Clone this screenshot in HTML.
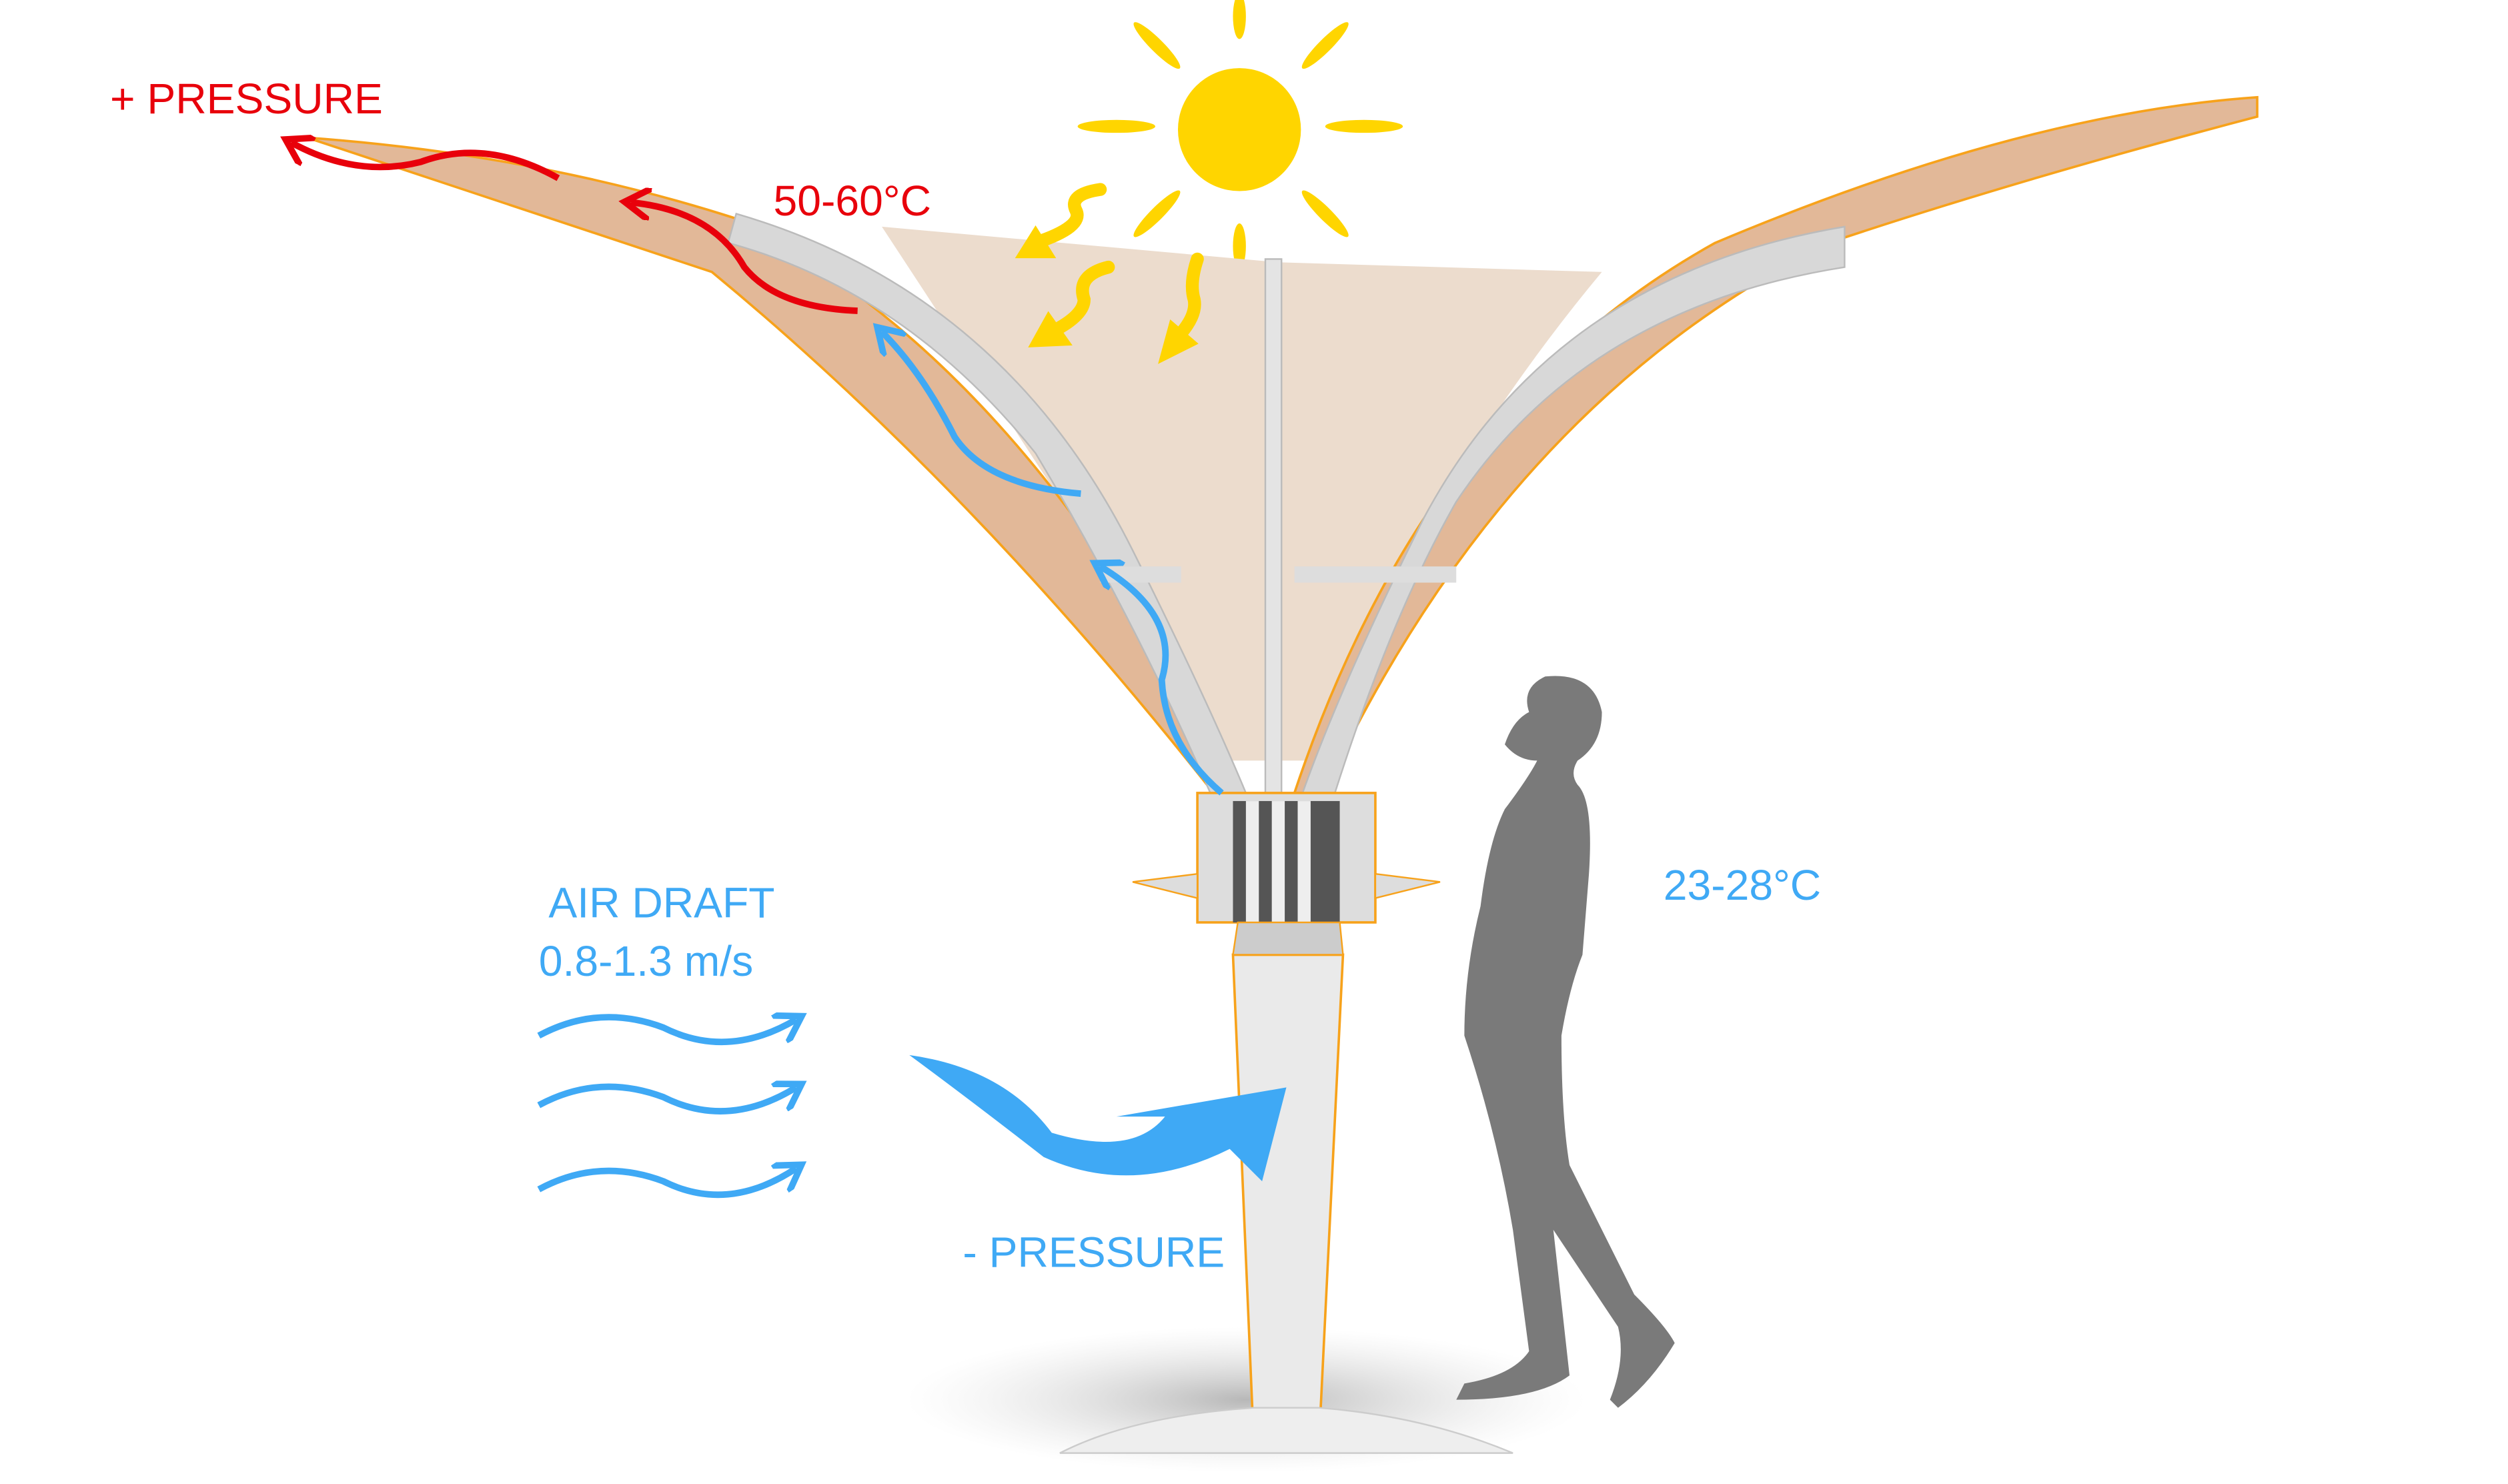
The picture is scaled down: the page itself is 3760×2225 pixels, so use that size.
<!DOCTYPE html>
<html><head><meta charset="utf-8"><style>
html,body{margin:0;padding:0;background:#fff;}
svg{display:block;}
text{font-family:"Liberation Sans",sans-serif;}
</style></head><body>
<svg width="3760" height="2225" viewBox="0 0 1550 917" xmlns="http://www.w3.org/2000/svg">
<defs>
<radialGradient id="shadow" cx="0.5" cy="0.5" r="0.5">
<stop offset="0" stop-color="#888" stop-opacity="0.6"/><stop offset="1" stop-color="#ccc" stop-opacity="0"/>
</radialGradient>
<marker id="ab" viewBox="0 0 10 10" refX="6" refY="5" markerWidth="5" markerHeight="5" orient="auto"><path d="M0,0 L8,5 L0,10" fill="none" stroke="#3FA9F5" stroke-width="2"/></marker>
<marker id="ar" viewBox="0 0 10 10" refX="6" refY="5" markerWidth="5" markerHeight="5" orient="auto"><path d="M0,0 L8,5 L0,10" fill="none" stroke="#E8000B" stroke-width="2"/></marker>
</defs>

<ellipse cx="770" cy="865" rx="210" ry="45" fill="url(#shadow)"/>

<g fill="#FFD500">
<circle cx="766" cy="80" r="38"/>
<ellipse cx="766" cy="10" rx="4" ry="14"/>
<ellipse cx="766" cy="152" rx="4" ry="14"/>
<ellipse cx="690" cy="78" rx="24" ry="4"/>
<ellipse cx="843" cy="78" rx="24" ry="4"/>
<ellipse cx="715" cy="28" rx="20" ry="4" transform="rotate(45 715 28)"/>
<ellipse cx="819" cy="28" rx="20" ry="4" transform="rotate(-45 819 28)"/>
<ellipse cx="715" cy="132" rx="20" ry="4" transform="rotate(-45 715 132)"/>
<ellipse cx="819" cy="132" rx="20" ry="4" transform="rotate(45 819 132)"/>
</g>

<g>
<path d="M545,140 L790,162 L990,168 Q880,300 810,470 L760,470 Q650,300 545,140 Z" fill="#ecdccd"/>
<path d="M190,85 Q330,95 455,135 Q640,230 765,490 L750,490 Q600,300 440,168 Z" fill="#e2b898" stroke="#F7A21B" stroke-width="1.5"/>
<path d="M455,132 Q620,180 700,340 Q745,430 770,490 L748,490 Q700,380 640,280 Q560,180 450,150 Z" fill="#d8d8d8" stroke="#bbb"/>
<path d="M1395,60 L1395,72 Q1250,110 1130,150 Q930,250 818,490 L800,490 Q880,250 1060,150 Q1250,70 1395,60 Z" fill="#e2b898" stroke="#F7A21B" stroke-width="1.5"/>
<path d="M1140,140 Q960,170 880,320 Q830,420 805,490 L825,490 Q860,380 900,310 Q980,190 1140,165 Z" fill="#d8d8d8" stroke="#bbb"/>
<rect x="782" y="160" width="10" height="330" fill="#e4e4e4" stroke="#bbb"/>
<rect x="680" y="350" width="50" height="10" fill="#ddd"/>
<rect x="800" y="350" width="100" height="10" fill="#ddd"/>
</g>

<g>
<rect x="740" y="490" width="110" height="80" fill="#ddd" stroke="#F7A21B" stroke-width="1.5"/>
<rect x="762" y="495" width="66" height="75" fill="#555"/>
<rect x="770" y="495" width="8" height="75" fill="#eee"/><rect x="786" y="495" width="8" height="75" fill="#eee"/><rect x="802" y="495" width="8" height="75" fill="#eee"/>
<path d="M700,545 L740,540 L740,555 Z M850,540 L890,545 L850,555 Z" fill="#ddd" stroke="#F7A21B"/>
<path d="M762,590 L830,590 L815,895 L775,895 Z" fill="#eaeaea" stroke="#F7A21B" stroke-width="1.5"/>
<path d="M765,570 L828,570 L830,590 L762,590 Z" fill="#ccc" stroke="#F7A21B"/>
<path d="M655,898 Q700,875 775,870 L815,870 Q880,875 935,898 Z" fill="#eee" stroke="#ccc"/>
</g>

<path fill="#7a7a7a" d="M955,418 Q985,415 990,440 Q990,460 975,470 Q970,478 975,485 Q985,495 982,540 L978,590 Q970,610 965,640 Q965,690 970,720 L1010,800 Q1030,820 1035,830 Q1020,855 1000,870 L995,865 Q1005,840 1000,820 L960,760 L970,850 Q950,865 900,865 L905,855 Q935,850 945,835 L935,760 Q925,700 905,640 Q905,600 915,560 Q920,520 930,500 Q945,480 950,470 Q938,470 930,460 Q935,445 945,440 Q940,425 955,418 Z"/>

<g stroke="#FFD500" stroke-width="8" fill="none" stroke-linecap="round">
<path d="M680,117 Q660,120 665,130 Q670,140 640,150"/><path d="M630,158 L640,142 L650,158 Z" fill="#FFD500" stroke-width="3"/>
<path d="M685,165 Q665,170 670,185 Q670,195 650,205"/><path d="M638,213 L648,195 L660,212 Z" fill="#FFD500" stroke-width="3"/>
<path d="M740,160 Q735,175 738,185 Q740,195 728,208"/><path d="M718,222 L724,200 L738,212 Z" fill="#FFD500" stroke-width="3"/>
</g>

<g stroke="#E8000B" stroke-width="4" fill="none">
<path d="M530,192 Q480,190 460,165 Q440,130 390,125" marker-end="url(#ar)"/>
<path d="M345,110 Q300,85 260,100 Q220,110 180,88" marker-end="url(#ar)"/>
</g>

<g stroke="#3FA9F5" stroke-width="4" fill="none">
<path d="M668,305 Q610,300 590,270 Q570,230 545,205" marker-end="url(#ab)"/>
<path d="M755,490 Q720,460 718,420 Q730,380 680,350" marker-end="url(#ab)"/>
</g>

<g stroke="#3FA9F5" stroke-width="4" fill="none">
<path d="M333,640 Q370,620 410,635 Q450,655 492,630" marker-end="url(#ab)"/>
<path d="M333,683 Q370,663 410,678 Q450,698 492,672" marker-end="url(#ab)"/>
<path d="M333,735 Q370,715 410,730 Q450,750 492,722" marker-end="url(#ab)"/>
</g>
<path d="M562,652 Q620,660 650,700 Q700,715 720,690 L690,690 L795,672 L780,730 L760,710 Q700,740 645,715 Q600,680 562,652 Z" fill="#3FA9F5"/>

<g font-size="26.5">
<text x="68" y="70" fill="#E8000B">+ PRESSURE</text>
<text x="478" y="133" fill="#E8000B">50-60°C</text>
<text x="339" y="567" fill="#3FA9F5">AIR DRAFT</text>
<text x="333" y="603" fill="#3FA9F5">0.8-1.3 m/s</text>
<text x="1028" y="556" fill="#3FA9F5">23-28°C</text>
<text x="595" y="783" fill="#3FA9F5">- PRESSURE</text>
</g>
</svg>
</body></html>
